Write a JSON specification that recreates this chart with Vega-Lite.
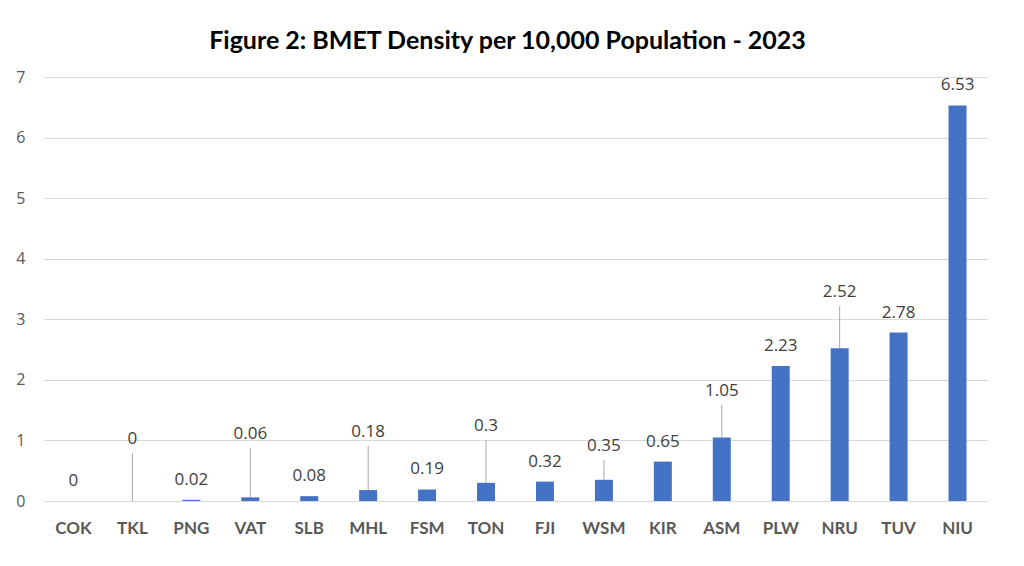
{
  "$schema": "https://vega.github.io/schema/vega-lite/v6.json",
  "autosize": {"type": "none"},
  "width": 943,
  "height": 424,
  "padding": {"left": 44, "top": 77, "right": 37, "bottom": 65},
  "title": {
    "text": "Figure 2: BMET Density per 10,000 Population - 2023",
    "font": "Lato",
    "fontSize": 25,
    "fontWeight": "bold",
    "color": "#000000",
    "anchor": "middle",
    "dx": -8,
    "offset": 15
  },
  "data": {
    "values": [
      {"country": "COK", "density": 0},
      {"country": "TKL", "density": 0, "callout": 1.02},
      {"country": "PNG", "density": 0.02},
      {"country": "VAT", "density": 0.06, "callout": 1.11},
      {"country": "SLB", "density": 0.08},
      {"country": "MHL", "density": 0.18, "callout": 1.14},
      {"country": "FSM", "density": 0.19},
      {"country": "TON", "density": 0.3, "callout": 1.24},
      {"country": "FJI", "density": 0.32},
      {"country": "WSM", "density": 0.35, "callout": 0.91},
      {"country": "KIR", "density": 0.65},
      {"country": "ASM", "density": 1.05, "callout": 1.82},
      {"country": "PLW", "density": 2.23},
      {"country": "NRU", "density": 2.52, "callout": 3.45},
      {"country": "TUV", "density": 2.78},
      {"country": "NIU", "density": 6.53}
    ]
  },
  "encoding": {
    "x": {
      "field": "country",
      "type": "nominal",
      "sort": null,
      "title": null,
      "axis": {
        "labelAngle": 0,
        "labelFont": "Lato",
        "labelFontSize": 17,
        "labelFontWeight": "bold",
        "labelColor": "#595959",
        "labelPadding": 19,
        "ticks": false,
        "domainColor": "#D9D9D9",
        "domainWidth": 1
      }
    }
  },
  "layer": [
    {
      "mark": {"type": "bar", "width": 18, "color": "#4472C4"},
      "encoding": {
        "y": {
          "field": "density",
          "type": "quantitative",
          "scale": {"domain": [0, 7], "nice": false},
          "title": null,
          "axis": {
            "values": [0, 1, 2, 3, 4, 5, 6, 7],
            "format": "d",
            "labelFont": "Open Sans",
            "labelFontSize": 16,
            "labelColor": "#595959",
            "labelPadding": 19,
            "ticks": false,
            "domain": false,
            "gridColor": "#D9D9D9",
            "gridWidth": 1
          }
        }
      }
    },
    {
      "transform": [{"filter": "isValid(datum.callout)"}],
      "mark": {"type": "rule", "color": "#A6A6A6", "strokeWidth": 1, "y2Offset": 14},
      "encoding": {
        "y": {"field": "density", "type": "quantitative"},
        "y2": {"field": "callout"}
      }
    },
    {
      "transform": [{"filter": "!isValid(datum.callout)"}],
      "mark": {"type": "text", "dy": -20, "baseline": "middle", "font": "Open Sans", "fontSize": 17, "color": "#404040"},
      "encoding": {
        "y": {"field": "density", "type": "quantitative"},
        "text": {"field": "density", "type": "quantitative"}
      }
    },
    {
      "transform": [{"filter": "isValid(datum.callout)"}],
      "mark": {"type": "text", "baseline": "middle", "font": "Open Sans", "fontSize": 17, "color": "#404040"},
      "encoding": {
        "y": {"field": "callout", "type": "quantitative"},
        "text": {"field": "density", "type": "quantitative"}
      }
    }
  ],
  "config": {
    "view": {"stroke": null},
    "background": "#FFFFFF"
  }
}
